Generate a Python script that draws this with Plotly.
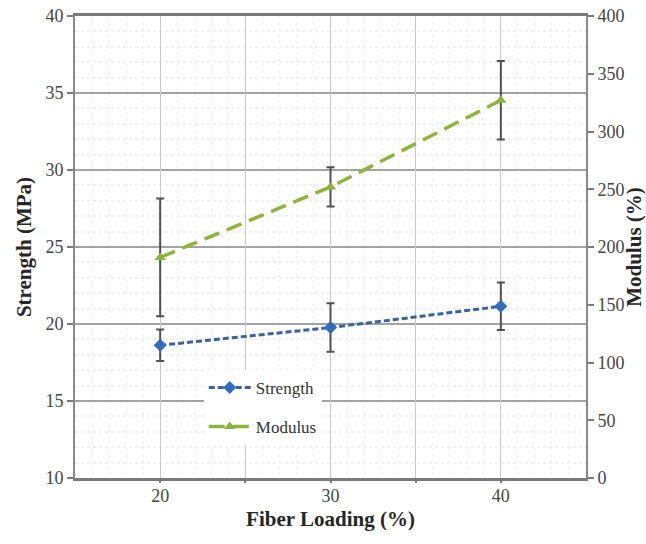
import plotly.graph_objects as go

fiber = [20, 30, 40]
strength = [18.62, 19.77, 21.15]
strength_err = [1.02, 1.57, 1.54]
modulus = [191, 252, 327]
modulus_err = [51, 17, 34]

serif = "'Liberation Serif', 'Times New Roman', serif"
tick_font = dict(family=serif, size=18, color="#454545")
title_font = dict(family=serif, size=21, color="#262626")

fig = go.Figure()
# helper trace for vertical major gridlines (xaxis2)
fig.add_trace(go.Scatter(x=[15, 45], y=[10, 10], xaxis="x2", yaxis="y", mode="lines",
                         line=dict(width=0), showlegend=False, hoverinfo="skip"))
fig.add_trace(go.Scatter(
    x=fiber, y=strength, name="Strength", mode="lines+markers",
    line=dict(color="#3a62a0", width=3, dash="6px,3px"),
    marker=dict(symbol="diamond", size=10, color="#2f6cc0"),
    error_y=dict(type="data", array=strength_err, visible=True,
                 color="#505050", thickness=2, width=4),
    legendgroup="a", yaxis="y"))
fig.add_trace(go.Scatter(
    x=fiber, y=modulus, name="Modulus", mode="lines+markers",
    line=dict(color="#8db43c", width=3.5, dash="16px,8px"),
    marker=dict(symbol="triangle-up", size=10, color="#8db43c"),
    error_y=dict(type="data", array=modulus_err, visible=True,
                 color="#505050", thickness=2, width=4),
    legendgroup="b", yaxis="y2"))

fig.update_layout(
    width=646, height=544,
    margin=dict(l=75, r=60, t=16, b=66),
    paper_bgcolor="white", plot_bgcolor="white",
    showlegend=True,
    legend=dict(x=0.252, y=0.234, xanchor="left", yanchor="top",
                bgcolor="white", borderwidth=0,
                font=dict(family=serif, size=17, color="#333333"),
                traceorder="grouped", tracegroupgap=14, itemwidth=42),
    xaxis=dict(range=[15, 45], tickvals=[20, 30, 40], ticktext=["20", "30", "40"],
               tickfont=tick_font,
               title=dict(text="<b>Fiber Loading (%)</b>", font=title_font, standoff=6),
               showgrid=False, ticks="", zeroline=False,
               showline=True, linecolor="#7a7a7a", linewidth=2.5, mirror=True,
               minor=dict(dtick=1, showgrid=True, gridcolor="#f1f1f1", griddash="dot"),
               automargin=False),
    xaxis2=dict(range=[15, 45], dtick=5, tick0=15, overlaying="x", side="bottom",
                showticklabels=False,
                showgrid=True, gridcolor="#c8c8c8", gridwidth=1.2,
                tickvals=[20, 25, 30, 35, 40],
                ticks="outside", ticklen=4, tickcolor="#7a7a7a", tickwidth=1.5,
                zeroline=False, matches="x"),
    yaxis=dict(range=[10, 40], dtick=5, tickfont=tick_font,
               title=dict(text="<b>Strength (MPa)</b>", font=title_font, standoff=8),
               showgrid=True, gridcolor="#a3a3a3", gridwidth=1.5,
               ticks="outside", ticklen=6, tickcolor="#7a7a7a", tickwidth=1.5,
               zeroline=False, showline=True, linecolor="#8a8a8a", linewidth=2,
               minor=dict(dtick=1, showgrid=True, gridcolor="#f1f1f1", griddash="dot"),
               automargin=False),
    yaxis2=dict(range=[0, 400], dtick=50, tickfont=tick_font, overlaying="y", side="right",
                title=dict(text="<b>Modulus (%)</b>", font=title_font, standoff=8),
                showgrid=False, ticks="outside", ticklen=6, tickcolor="#7a7a7a", tickwidth=1.5,
                zeroline=False, showline=True, linecolor="#8a8a8a", linewidth=2,
                automargin=False),
)

fig.write_html("out.html")
